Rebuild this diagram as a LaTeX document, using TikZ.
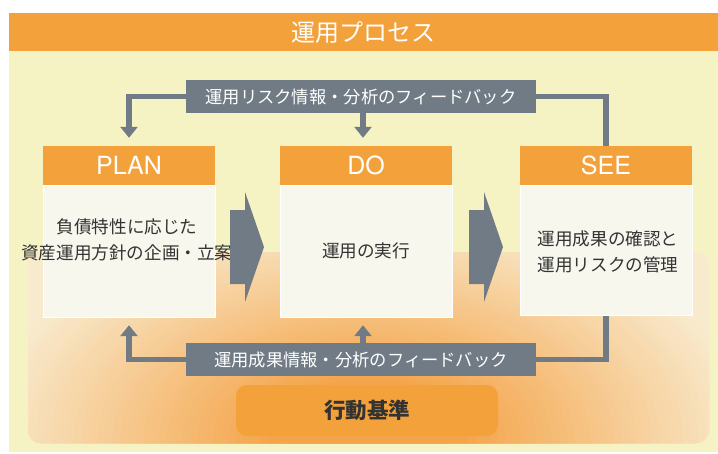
\documentclass[tikz,border=0pt]{standalone}
\usepackage{fontspec}
\setmainfont{Noto Sans CJK JP}
\newfontfamily\latinsf{TeX Gyre Heros}
\usetikzlibrary{arrows.meta}
\definecolor{orangeH}{HTML}{F3A13B}
\definecolor{creamBg}{HTML}{F5F2C4}
\definecolor{grayB}{HTML}{707B85}
\definecolor{bodyC}{HTML}{F7F7EE}
\definecolor{txt}{HTML}{333333}
\definecolor{gA}{HTML}{F4A449}
\definecolor{gC}{HTML}{F8EACD}
\begin{document}
\begin{tikzpicture}[x=1pt,y=-1pt,
  headbox/.style={fill=orangeH, minimum width=172pt, minimum height=39pt, inner sep=0pt, text=white, font=\latinsf\fontsize{25}{25}\selectfont},
  bodybox/.style={fill=bodyC, draw=white, line width=1pt, minimum width=172pt, inner sep=0pt},
  bodytxt/.style={text=txt, align=center, font=\fontsize{17.6}{26.5}\selectfont, inner sep=0pt},
  fbbox/.style={fill=grayB, minimum width=350pt, minimum height=33pt, inner sep=0pt, text=white, font=\fontsize{17.3}{17.3}\selectfont},
  fbline/.style={draw=grayB, line width=5.5pt},
  fbarrow/.style={fbline, -{Triangle[width=17pt,length=11pt]}},
  bigarrow/.style={fill=grayB},
]
\useasboundingbox (0,0) rectangle (718,453);
\fill[white] (0,0) rectangle (718,453);
% background
\fill[creamBg] (9,51) rectangle (718,452);
\node[fill=orangeH, minimum width=709pt, minimum height=38pt, inner sep=0pt, anchor=north west, text=white, font=\fontsize{24}{24}\selectfont] (title) at (9,13) {運用プロセス};
% glow region
\begin{scope}
  \fill[gC, rounded corners=13pt] (28,252) rectangle (709,443);
  \clip[rounded corners=13pt] (28,252) rectangle (709,443);
  \foreach \i in {0,...,40} {
    \pgfmathsetmacro{\f}{1-0.02*\i}
    \pgfmathtruncatemacro{\p}{min(100,100*(1-\f)/0.75)}
    \fill[gA!\p!gC] (367,440) ellipse [x radius={385*\f}, y radius={235*\f}];
  }
\end{scope}
% boxes
\node[headbox] (planH) at (129,165.5) {PLAN};
\node[bodybox, minimum height=132pt, anchor=north] (planB) at (planH.south) {};
\node[headbox] (doH) at (366,165.5) {DO};
\node[bodybox, minimum height=132pt, anchor=north] (doB) at (doH.south) {};
\node[headbox] (seeH) at (606,165.5) {SEE};
\node[bodybox, minimum height=130pt, anchor=north] (seeB) at (seeH.south) {};
\node[bodytxt] (planT) at (127,240) {負債特性に応じた\\資産運用方針の企画・立案};
\node[bodytxt] (doT) at (366,251) {運用の実行};
\node[bodytxt] (seeT) at (608,252) {運用成果の確認と\\運用リスクの管理};
% big arrows
\fill[bigarrow] (230,210) -- (245,210) -- (245,192) -- (264,247) -- (245,302) -- (245,284) -- (230,284) -- cycle;
\fill[bigarrow] (469,210) -- (484,210) -- (484,192) -- (503,247) -- (484,302) -- (484,284) -- (469,284) -- cycle;
% feedback boxes
\node[fbbox] (topfb) at (361,96.5) {運用リスク情報・分析のフィードバック};
\node[fbbox] (botfb) at (361,359.5) {運用成果情報・分析のフィードバック};
% top connectors
\draw[fbarrow] (topfb.west) -| ([yshift=8pt]planH.north);
\draw[fbarrow] ([xshift=2pt]topfb.south) -- ([xshift=-3pt,yshift=8pt]doH.north);
\draw[fbline] (seeH.north) |- (topfb.east);
% bottom connectors
\draw[fbarrow] (botfb.west) -| ([yshift=-7pt]planB.south);
\draw[fbarrow] ([xshift=2pt]botfb.north) -- ([xshift=-3pt,yshift=-7pt]doB.south);
\draw[fbline] (seeB.south) |- (botfb.east);
% action standard
\node[fill=orangeH, rounded corners=11pt, minimum width=262pt, minimum height=51pt, inner sep=0pt, text=txt, font=\bfseries\fontsize{21.5}{21.5}\selectfont] (std) at (367,410.5) {行動基準};
\end{tikzpicture}
\end{document}
